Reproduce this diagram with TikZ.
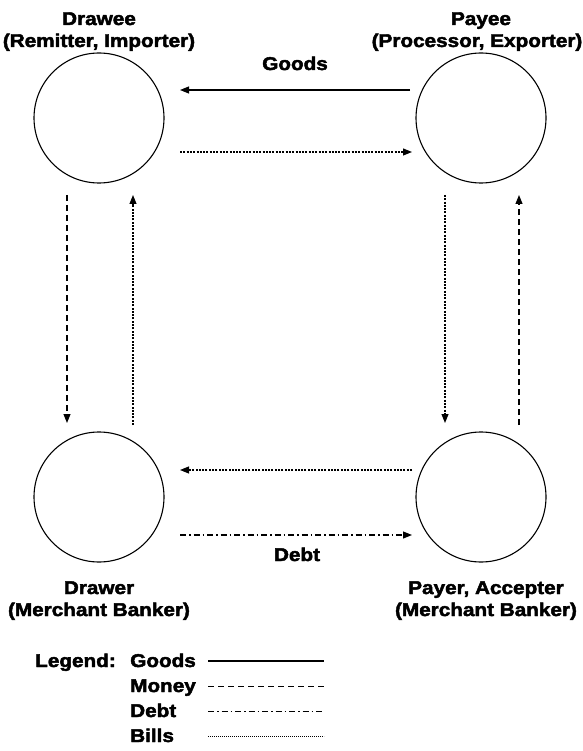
\documentclass[tikz,border=0pt]{standalone}
\usepackage{fontspec}
\setmainfont{Liberation Sans}[BoldFeatures={FakeBold=2.5,FakeStretch=1.12}]
\usetikzlibrary{arrows.meta}
\begin{document}
\begin{tikzpicture}[x=1pt,y=-1pt,
  party/.style={circle,draw,line width=1.1pt,minimum size=130pt,inner sep=0pt},
  lbl/.style={font=\bfseries\fontsize{18.5}{20}\selectfont,inner sep=0pt,anchor=base},
  conn/.style={line width=1.1pt,-{Triangle[length=9pt,width=7pt]}},
  goods/.style={solid},
  money/.style={dash pattern=on 6pt off 4pt},
  debt/.style={dash pattern=on 6pt off 3pt on 1.5pt off 3pt},
  bills/.style={dash pattern=on 2pt off 1.3pt},
  leg/.style={line width=1.1pt}]
\useasboundingbox (0,0) rectangle (582,751);
\node[party] (A) at (99,118) {};
\node[party] (B) at (481,118) {};
\node[party] (C) at (99,497) {};
\node[party] (D) at (481,497) {};
\node[lbl] (tA1) at (99,25) {Drawee};
\node[lbl] (tA2) at (99,47) {(Remitter, Importer)};
\node[lbl] (tB1) at (481,25) {Payee};
\node[lbl] (tB2) at (477,47) {(Processor, Exporter)};
\node[lbl] (tC1) at (99,594) {Drawer};
\node[lbl] (tC2) at (99,616) {(Merchant Banker)};
\node[lbl] (tD1) at (486,594) {Payer, Accepter};
\node[lbl] (tD2) at (486,616) {(Merchant Banker)};
\coordinate (g1) at (410,90); \coordinate (g2) at (180,90);
\coordinate (b1) at (180,152); \coordinate (b2) at (412,152);
\coordinate (m1) at (67,195); \coordinate (m2) at (67,423);
\coordinate (b3) at (133,425); \coordinate (b4) at (133,195);
\coordinate (b5) at (445,195); \coordinate (b6) at (445,423);
\coordinate (m3) at (519,425); \coordinate (m4) at (519,195);
\coordinate (b7) at (412,470); \coordinate (b8) at (180,470);
\coordinate (d1) at (180,535); \coordinate (d2) at (412,535);
\draw[conn,goods] (g1) -- (g2);
\node[lbl] (gl) at (295,70) {Goods};
\draw[conn,bills] (b1) -- (b2);
\draw[conn,money] (m1) -- (m2);
\draw[conn,bills] (b3) -- (b4);
\draw[conn,bills] (b5) -- (b6);
\draw[conn,money] (m3) -- (m4);
\draw[conn,bills] (b7) -- (b8);
\draw[conn,debt] (d1) -- (d2);
\node[lbl] (dl) at (297,561) {Debt};
\node[lbl,anchor=base west] (lg) at (35,667) {Legend:};
\node[lbl,anchor=base west] (l1) at (130,667) {Goods};
\node[lbl,anchor=base west] (l2) at (130,692) {Money};
\node[lbl,anchor=base west] (l3) at (130,717) {Debt};
\node[lbl,anchor=base west] (l4) at (130,742) {Bills};
\coordinate (s1) at (208,661); \coordinate (e1) at (324,661);
\coordinate (s2) at (208,686); \coordinate (e2) at (324,686);
\coordinate (s3) at (208,711); \coordinate (e3) at (324,711);
\coordinate (s4) at (208,736); \coordinate (e4) at (324,736);
\draw[leg,goods] (s1) -- (e1);
\draw[leg,money,line width=0.9pt] (s2) -- (e2);
\draw[leg,debt,line width=0.9pt] (s3) -- (e3);
\draw[leg,bills,line width=0.7pt,dash pattern=on 1.2pt off 0.8pt] (s4) -- (e4);
\end{tikzpicture}
\end{document}
